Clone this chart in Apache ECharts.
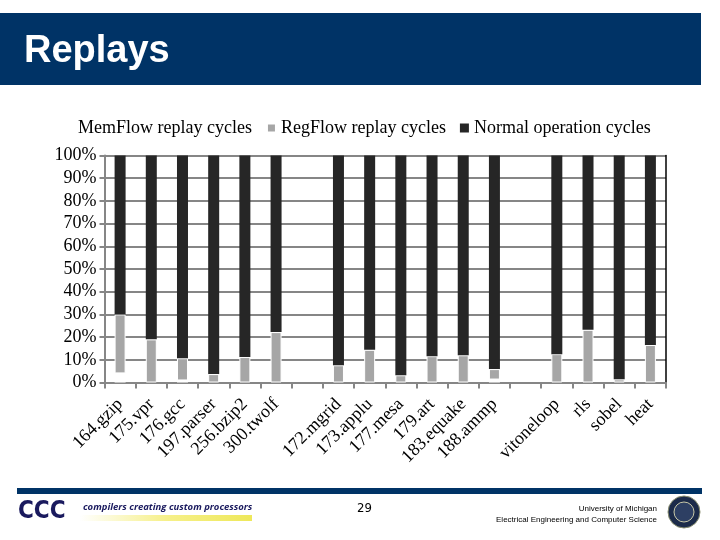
<!DOCTYPE html>
<html>
<head>
<meta charset="utf-8">
<script src="https://cdn.jsdelivr.net/npm/echarts@6/dist/echarts.min.js"></script>
<style>
  html, body { margin: 0; padding: 0; background: #fff; }
  #replays { width: 720px; height: 540px; }
</style>
</head>
<body>
<div id="replays"></div>
<script>
const benchmarks = [
    '164.gzip', '175.vpr', '176.gcc', '197.parser', '256.bzip2', '300.twolf', '',
    '172.mgrid', '173.applu', '177.mesa', '179.art', '183.equake', '188.ammp', '',
    'vitoneloop', 'rls', 'sobel', 'heat'
];
// percent of cycles, '-' = empty slot between groups
const memFlow = [4, 0, 0.9, 0, 0, 0, '-', 0, 0, 0, 0, 0, 1.3, '-', 0, 0, 0, 0];
const regFlow = [26, 19, 9.8, 3.7, 11.2, 22.2, '-', 7.6, 14.4, 3.2, 11.6, 12, 4.6, '-', 12.5, 23.2, 1.4, 16.5];
const normalOp = [70, 81, 89.3, 96.3, 88.8, 77.8, '-', 92.4, 85.6, 96.8, 88.4, 88, 94.1, '-', 87.5, 76.8, 98.6, 83.5];
const percentTicks = [0, 10, 20, 30, 40, 50, 60, 70, 80, 90, 100];

const serif = 'Liberation Serif';
const navy = '#003366';
const gridGray = '#868686';

function barSeries(name, data, color, border) {
    return {
        name,
        type: 'bar',
        stack: 'cycles',
        barWidth: 11,
        data,
        itemStyle: {color, borderColor: border ? '#fff' : color, borderWidth: border ? 1 : 0},
        emphasis: {disabled: true},
    };
}

option = {
    backgroundColor: '#fff',
    animation: false,
    legend: {
        left: 59,
        top: 114,
        icon: 'rect',
        itemWidth: 9,
        itemHeight: 9,
        itemGap: 14,
        textStyle: {fontFamily: serif, fontSize: 18, color: '#000'},
        data: ['MemFlow replay cycles', 'RegFlow replay cycles', 'Normal operation cycles'],
    },
    grid: {
        left: 104.5,
        right: 54,
        top: 155.5,
        bottom: 157.5,
    },
    xAxis: {
        type: 'category',
        data: benchmarks,
        axisLine: {lineStyle: {color: gridGray, width: 2}},
        axisTick: {show: true, interval: 0, length: 6, lineStyle: {color: gridGray, width: 2}},
        axisLabel: {
            interval: 0,
            rotate: 45,
            margin: 19,
            fontFamily: serif,
            fontSize: 18,
            color: '#000',
        },
        splitLine: {show: false},
    },
    yAxis: [{
        type: 'value',
        min: percentTicks[0],
        max: percentTicks[percentTicks.length - 1],
        interval: 10,
        axisLine: {show: true, lineStyle: {color: gridGray, width: 2}},
        axisTick: {show: true, length: 5, lineStyle: {color: gridGray, width: 2}},
        axisLabel: {
            formatter: '{value}%',
            margin: 8,
            fontFamily: serif,
            fontSize: 18,
            color: '#000',
        },
        splitLine: {show: true, lineStyle: {color: gridGray, width: 2}},
    }, {
        type: 'value',
        position: 'right',
        min: 0,
        max: 100,
        axisLine: {show: true, lineStyle: {color: '#000', width: 1.5}},
        axisTick: {show: false},
        axisLabel: {show: false},
        splitLine: {show: false},
    }],
    series: [
        barSeries('MemFlow replay cycles', memFlow, '#ffffff', false),
        barSeries('RegFlow replay cycles', regFlow, '#a6a6a6', true),
        barSeries('Normal operation cycles', normalOp, '#262626', false),
    ],
    graphic: [
        // slide header
        {type: 'rect', shape: {x: 0, y: 13, width: 701, height: 72}, style: {fill: navy}, silent: true},
        {type: 'text', left: 24, top: 33, style: {text: 'Replays', fill: '#fff', font: 'bold 38px "Liberation Sans", Arial'}},
        // slide footer
        {type: 'rect', shape: {x: 17, y: 488, width: 685, height: 6}, style: {fill: navy}, silent: true},
        {type: 'text', left: 18, top: 500, style: {text: 'CCC', fill: '#1a1a5e', font: 'bold 24px "DejaVu Sans Condensed", "Liberation Sans"'}},
        {type: 'text', left: 83, top: 502, style: {text: 'compilers creating custom processors', fill: '#1a1a5e', font: 'italic bold 9.5px "Open Sans", "Liberation Sans"'}},
        {
            type: 'rect', shape: {x: 80, y: 515, width: 172, height: 6},
            style: {
                fill: new echarts.graphic.LinearGradient(0, 0, 1, 0, [
                    {offset: 0, color: '#ffffff'},
                    {offset: 0.5, color: '#f6f08a'},
                    {offset: 1, color: '#eee85a'},
                ]),
            },
        },
        {type: 'text', left: 357, top: 502, style: {text: '29', fill: '#000', font: '13px "DejaVu Sans Condensed", "Liberation Sans"'}},
        {type: 'text', right: 63, top: 505, style: {text: 'University of Michigan', fill: '#000', font: '8px "Liberation Sans"', align: 'right'}},
        {type: 'text', right: 63, top: 516, style: {text: 'Electrical Engineering and Computer Science', fill: '#000', font: '8px "Liberation Sans"', align: 'right'}},
        {type: 'circle', shape: {cx: 684, cy: 512, r: 16}, style: {fill: '#1c2b4a', stroke: '#8a8f70', lineWidth: 1}},
        {type: 'circle', shape: {cx: 684, cy: 512, r: 10}, style: {fill: '#2d3f63', stroke: '#c8c8a8', lineWidth: 1}},
    ],
};

dom = document.getElementById('replays');
chart = echarts.init(dom);
chart.setOption(option);
</script>
</body>
</html>
